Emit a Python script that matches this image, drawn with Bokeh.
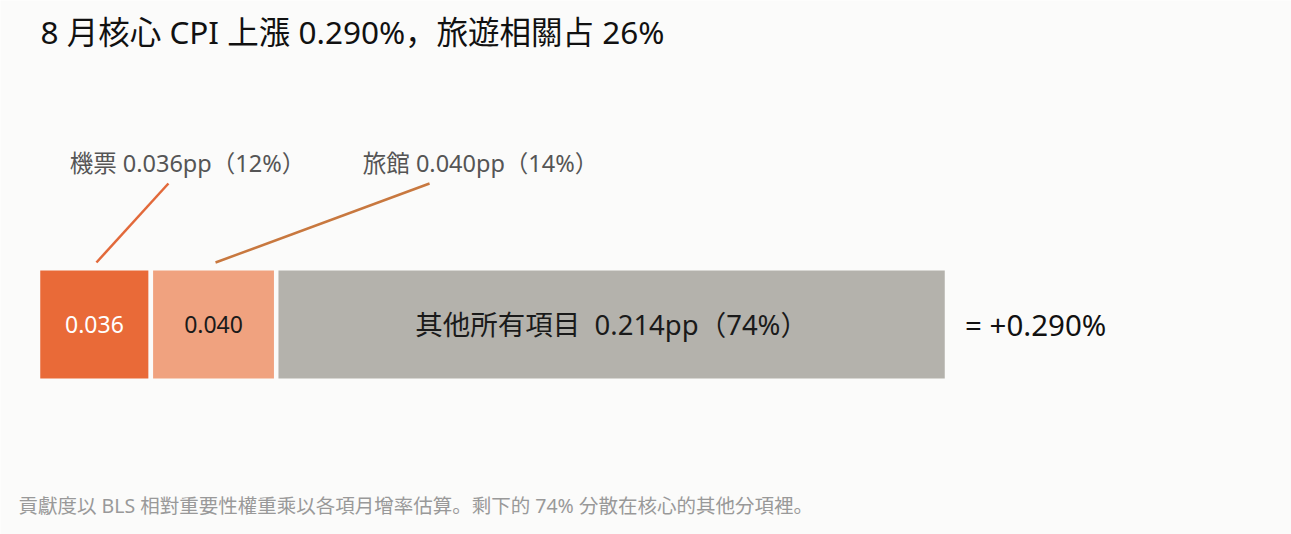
from bokeh.plotting import figure
from bokeh.models import Range1d, ColumnDataSource
from bokeh.core.properties import value
from bokeh.embed import file_html
from bokeh.resources import INLINE

# ---------------- data ----------------
categories = ["機票", "旅館", "其他所有項目"]
contrib_pp = [0.036, 0.040, 0.214]
share_pct = [12, 14, 74]
total_pct = 0.290
travel_share_pct = 26
month = 8
footnote_text = "貢獻度以 BLS 相對重要性權重乘以各項月增率估算。剩下的 74% 分散在核心的其他分項裡。"

# ---------------- style / layout ----------------
FONT = "'Noto Sans', 'Noto Sans CJK JP'"
BG = "#fbfbfa"
bar_colors = ["#e96a38", "#f0a27f", "#b4b2ac"]
leader_colors = ["#e2693a", "#c8783f"]
W, H = 1291, 534
PX_X = 3134.5      # pixels per pp
PX_Y = 112.5       # pixels per bar-height unit
BAR_LEFT_PX = 37.5
BAR_CY_PX = 324

x_start = -BAR_LEFT_PX / PX_X
x_end = x_start + W / PX_X
y_top = BAR_CY_PX / PX_Y
y_bottom = y_top - H / PX_Y


def fx(px):
    return x_start + px / PX_X


def fy(py):
    return y_top - py / PX_Y


p = figure(width=W, height=H, x_range=Range1d(x_start, x_end),
           y_range=Range1d(y_bottom, y_top), output_backend="svg",
           toolbar_location=None, min_border=0)
p.axis.visible = False
p.grid.visible = False
p.outline_line_color = None
p.background_fill_color = BG
p.border_fill_color = BG

lefts, rights = [], []
acc = 0.0
for v in contrib_pp:
    lefts.append(acc)
    acc += v
    rights.append(acc)
mids = [(a + b) / 2 for a, b in zip(lefts, rights)]

src = ColumnDataSource(dict(y=[0] * len(contrib_pp), left=lefts, right=rights, color=bar_colors))
p.hbar(y="y", left="left", right="right", height=1, fill_color="color",
       line_color=BG, line_width=4.5, source=src)

# values inside bars
p.text(x=[mids[0]], y=[0], text=[f"{contrib_pp[0]:.3f}"], text_color="white",
       text_font=value(FONT), text_font_size="23px", text_align="center", text_baseline="middle")
p.text(x=[mids[1]], y=[0], text=[f"{contrib_pp[1]:.3f}"], text_color="#1a1a1a",
       text_font=value(FONT), text_font_size="23px", text_align="center", text_baseline="middle")
p.text(x=[mids[2]], y=[0],
       text=[f"{categories[2]}\u00a0\u00a0{contrib_pp[2]:.3f}pp（{share_pct[2]}%）"],
       text_color="#1a1a1a", text_font=value(FONT), text_font_size="27.5px",
       text_align="center", text_baseline="middle")

# total
p.text(x=[acc], y=[0], text=[f"= +{total_pct:.3f}%"], x_offset=18, text_color="#111111",
       text_font=value(FONT), text_font_size="29.5px", text_align="left", text_baseline="middle")

# leader lines + callout labels (travel-related)
LEADER_TOP_DX_PX = [74, 216]
LABEL_DX_PX = [93, 267]
y_line_bottom = fy(262)
y_line_top = fy(183)
y_label = fy(162)
lsrc = ColumnDataSource(dict(
    x0=[mids[i] + 2 / PX_X for i in range(2)],
    y0=[y_line_bottom] * 2,
    x1=[mids[i] + LEADER_TOP_DX_PX[i] / PX_X for i in range(2)],
    y1=[y_line_top] * 2,
    color=leader_colors))
p.segment(x0="x0", y0="y0", x1="x1", y1="y1", line_color="color", line_width=2.5, source=lsrc)

p.text(x=[mids[i] + LABEL_DX_PX[i] / PX_X for i in range(2)], y=[y_label] * 2,
       text=[f"{categories[i]} {contrib_pp[i]:.3f}pp（{share_pct[i]}%）" for i in range(2)],
       text_color="#555555", text_font=value(FONT), text_font_size="23.5px",
       text_align="center", text_baseline="middle")

# title and footnote
p.text(x=[fx(40)], y=[fy(31)],
       text=[f"{month} 月核心 CPI 上漲 {total_pct:.3f}%，旅遊相關占 {travel_share_pct}%"],
       text_color="#111111", text_font=value(FONT), text_font_size="31.5px",
       text_align="left", text_baseline="middle")
p.text(x=[fx(18)], y=[fy(505)], text=[footnote_text], text_color="#999999",
       text_font=value(FONT), text_font_size="19.5px", text_align="left", text_baseline="middle")

open("out.html", "w").write(file_html(p, INLINE))
